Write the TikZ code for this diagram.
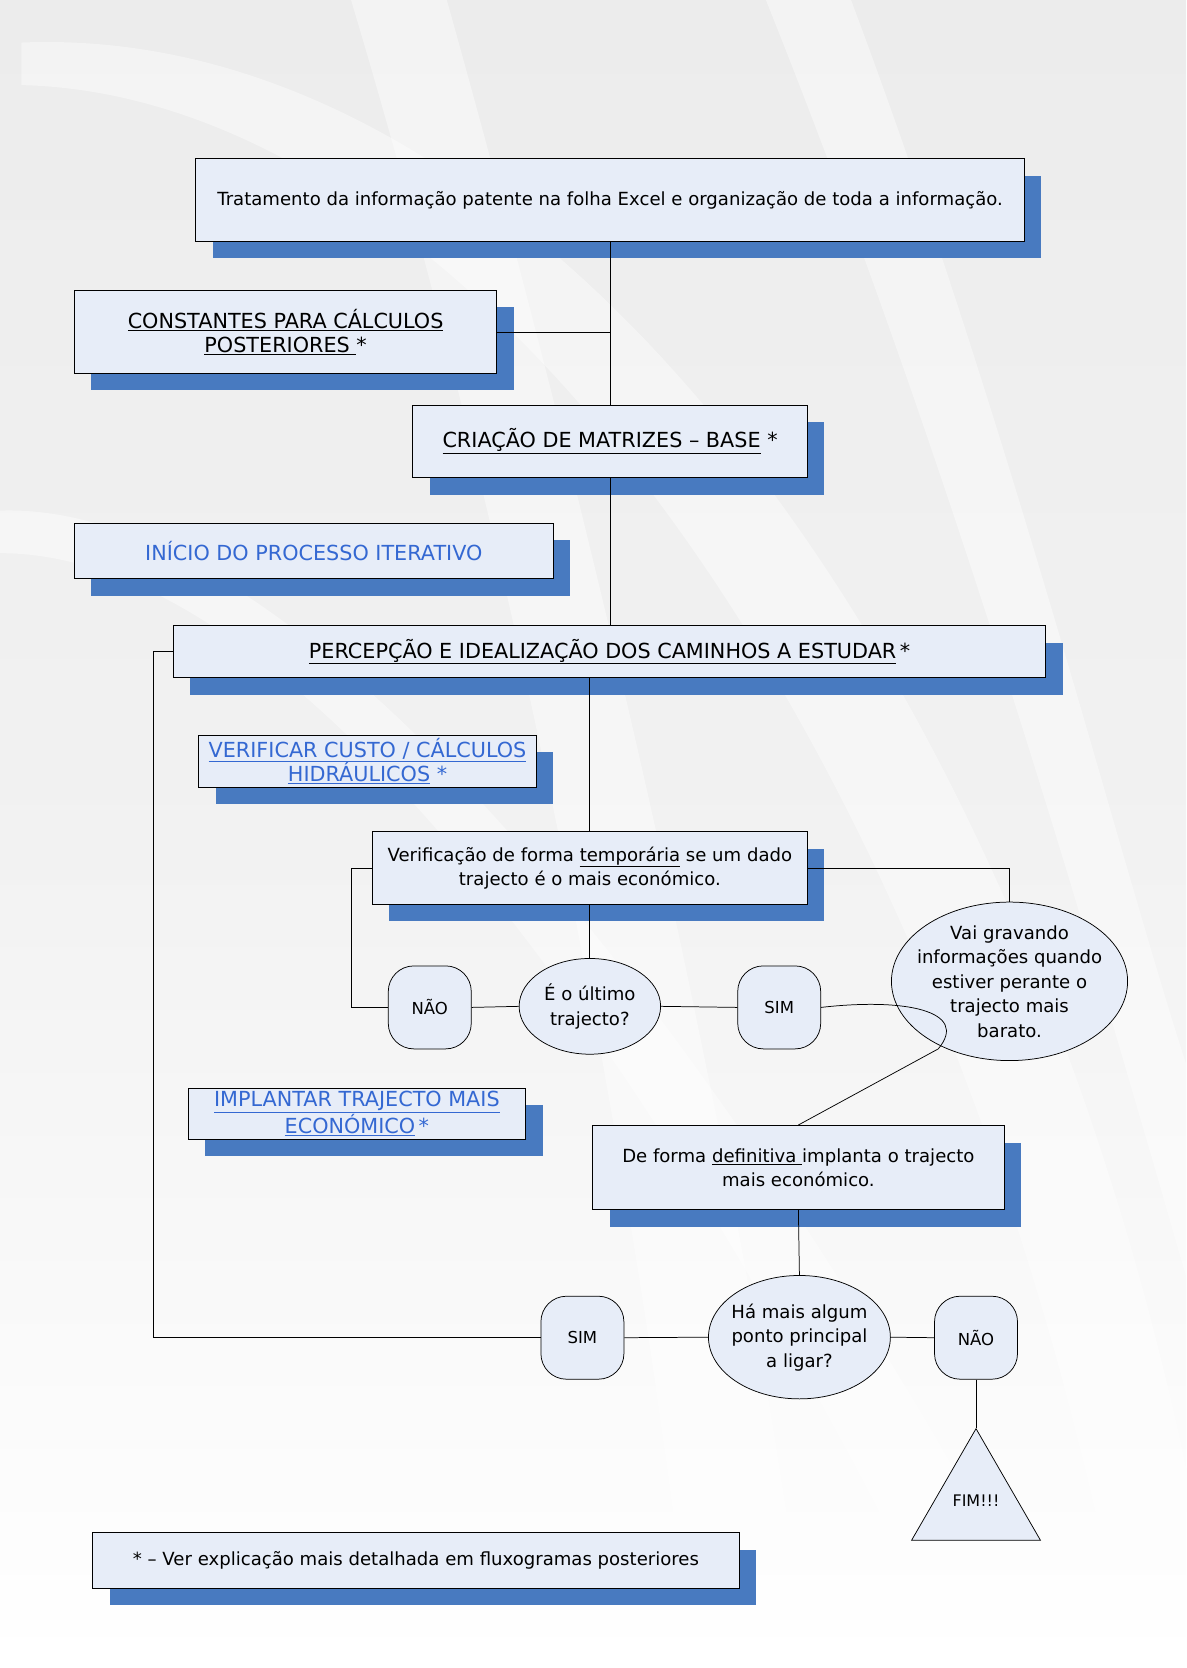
\documentclass[tikz,border=0pt]{standalone}
\usepackage{fontspec}
\setmainfont{DejaVu Sans}
\usetikzlibrary{shapes.geometric,shadows}
\definecolor{boxfill}{RGB}{231,237,248}
\definecolor{shblue}{RGB}{72,122,192}
\definecolor{txtblue}{RGB}{52,104,210}
\definecolor{bggray}{RGB}{236,236,236}
\begin{document}
\begin{tikzpicture}[x=1pt,y=-1pt,
  every node/.style={font=\fontsize{17}{23}\selectfont, align=center, inner sep=0pt},
  caps/.style={font=\fontsize{19.5}{23}\selectfont},
  shbox/.style={draw=black, line width=0.9pt, fill=boxfill, rectangle,
    drop shadow={shadow xshift=16pt, shadow yshift=-16pt, fill=shblue, opacity=1, draw=none}},
  rbox/.style={draw=black, line width=0.7pt, fill=boxfill, rounded corners=24pt,
    minimum width=78pt, minimum height=78pt, font=\fontsize{15.5}{18}\selectfont},
  oval/.style={draw=black, line width=0.7pt, fill=boxfill, ellipse},
  conn/.style={draw=black, line width=0.7pt}
]
\useasboundingbox (0,0) rectangle (1115,1568);
% background
\shade[top color=bggray, bottom color=white, middle color=bggray!70] (0,0) rectangle (1115,1568);
\begin{scope}[white, opacity=0.4]
  \fill (20,40) .. controls (500,20) and (950,600) .. (1115,1380) -- (1115,1568) -- (1060,1568)
        .. controls (900,700) and (450,90) .. (20,80) -- cycle;
  \fill (330,0) -- (420,0) .. controls (560,500) and (700,1100) .. (760,1568) -- (650,1568)
        .. controls (600,1100) and (480,500) .. (330,0) -- cycle;
  \fill (0,480) .. controls (300,470) and (700,1000) .. (1000,1568) -- (900,1568)
        .. controls (650,1050) and (300,520) .. (0,520) -- cycle;
  \fill (720,0) -- (800,0) .. controls (950,400) and (1050,800) .. (1115,1000) -- (1115,1200)
        .. controls (1000,800) and (880,400) .. (720,0) -- cycle;
\end{scope}

% boxes
\node[shbox, minimum width=779pt, minimum height=78pt] (b1) at (573.5,188)
  {Tratamento da informação patente na folha Excel e organização de toda a informação.};
\node[shbox, caps, minimum width=397pt, minimum height=78pt] (b2) at (268.5,312)
  {\underline{CONSTANTES PARA CÁLCULOS}\\\underline{POSTERIORES\ }*};
\node[shbox, caps, minimum width=371pt, minimum height=68pt] (b3) at (573.5,415)
  {\underline{CRIAÇÃO DE MATRIZES – BASE}\ *};
\node[shbox, caps, minimum width=450pt, minimum height=52pt, text=txtblue] (b4) at (295,518)
  {INÍCIO DO PROCESSO ITERATIVO};
\node[shbox, caps, minimum width=820pt, minimum height=49pt] (b5) at (573,612.5)
  {\underline{PERCEPÇÃO E IDEALIZAÇÃO DOS CAMINHOS A ESTUDAR}\,*};
\node[shbox, caps, minimum width=317pt, minimum height=49pt, text=txtblue] (b6) at (345.5,715.5)
  {\underline{VERIFICAR CUSTO / CÁLCULOS}\\\underline{HIDRÁULICOS}\ *};
\node[shbox, minimum width=409pt, minimum height=68pt] (b7) at (554.5,816)
  {Verificação de forma \underline{temporária} se um dado\\trajecto é o mais económico.};
\node[shbox, caps, minimum width=317pt, minimum height=48pt, text=txtblue] (b12) at (335.5,1047)
  {\underline{IMPLANTAR TRAJECTO MAIS}\\\underline{ECONÓMICO}\,*};
\node[shbox, minimum width=387pt, minimum height=79pt] (b13) at (750.5,1097.5)
  {De forma \underline{definitiva\ }implanta o trajecto\\mais económico.};
\node[shbox, minimum width=608pt, minimum height=52pt] (b18) at (391,1467)
  {* – Ver explicação mais detalhada em fluxogramas posteriores};

% decisions and answers
\node[rbox] (nao1) at (404,947) {NÃO};
\node[oval, minimum width=133pt, minimum height=90pt] (e1) at (554.5,946) {};
\node (e1txt) at (554.5,946) {É o último\\trajecto?};
\node[rbox] (sim1) at (732.5,947) {SIM};
\node[oval, minimum width=222pt, minimum height=149pt] (e2) at (949,922.5) {};
\node (e2txt) at (949,922.5)
  {Vai gravando\\informações quando\\estiver perante o\\trajecto mais\\barato.};
\node[oval, minimum width=171pt, minimum height=116pt] (e3) at (751.5,1257) {};
\node (e3txt) at (751.5,1257) {Há mais algum\\ponto principal\\a ligar?};
\node[rbox] (sim2) at (547.5,1257.5) {SIM};
\node[rbox] (nao2) at (917.5,1257.5) {NÃO};
\node[draw=black, line width=0.7pt, fill=boxfill, regular polygon, regular polygon sides=3,
  minimum size=140pt] (fim) at (917.5,1413) {};
\node[font=\fontsize{15}{18}\selectfont] (fimtxt) at (917.5,1411) {FIM!!!};

% connectors
\coordinate (lp) at (144,0);
\coordinate (loop) at (882,986);
\draw[conn] (b1.south) -- (b3.north);
\draw[conn] (b2.east) -- (b2.east -| b1.south);
\draw[conn] (b3.south) -- (b3.south |- b5.north);
\draw[conn] (b7.north) -- (b7.north |- b5.south);
\draw[conn] (b7.south) -- (e1.north);
\draw[conn] (e1.west) -- (nao1.east);
\draw[conn] (nao1.west) -- ([xshift=-34pt]nao1.west) |- (b7.west);
\draw[conn] (e1.east) -- (sim1.west);
\draw[conn] (b7.east) -| (e2.north);
\draw[conn] (sim1.east) .. controls (850,938) and (912,950) .. (loop) -- (b13.north);
\draw[conn] (b13.south) -- (e3.north);
\draw[conn] (e3.west) -- (sim2.east);
\draw[conn] (sim2.west) -- (sim2.west -| lp) |- (b5.west);
\draw[conn] (e3.east) -- (nao2.west);
\draw[conn] (nao2.south) -- (fim.corner 1);
\end{tikzpicture}
\end{document}
